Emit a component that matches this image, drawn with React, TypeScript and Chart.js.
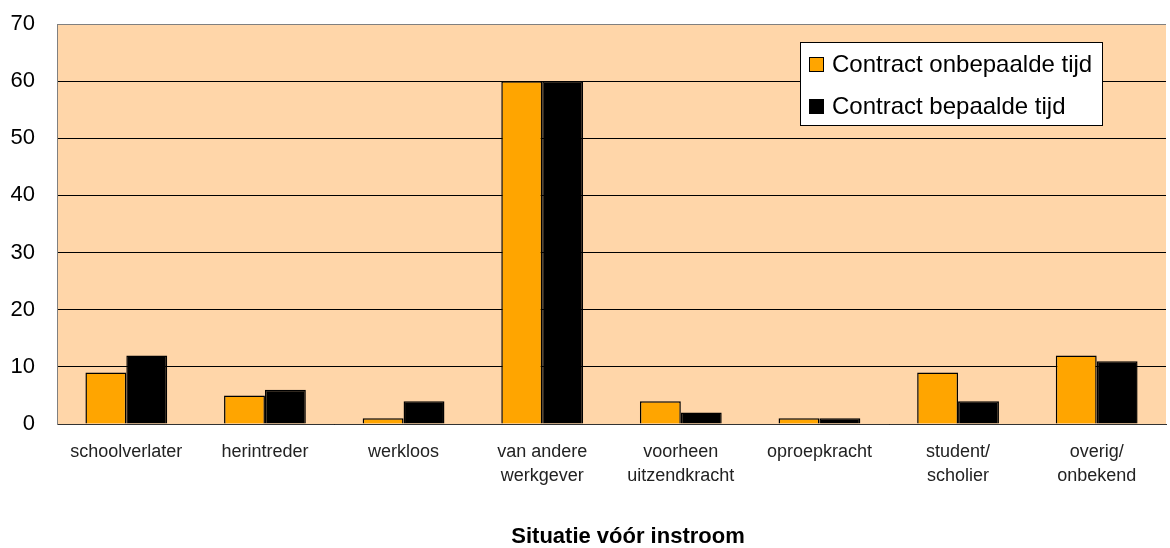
import React, { useEffect, useRef } from "react";
import { Chart, registerables } from "chart.js";

Chart.register(...registerables);

const categories: (string | string[])[] = [
  "schoolverlater",
  "herintreder",
  "werkloos",
  ["van andere", "werkgever"],
  ["voorheen", "uitzendkracht"],
  "oproepkracht",
  ["student/", "scholier"],
  ["overig/", "onbekend"],
];
const seriesNames = ["Contract onbepaalde tijd", "Contract bepaalde tijd"];
const onbepaalde = [9, 5, 1, 60, 4, 1, 9, 12];
const bepaalde = [12, 6, 4, 60, 2, 1, 4, 11];
const yTicks = [0, 10, 20, 30, 40, 50, 60, 70];
const axisTitle = "Situatie vóór instroom";

const FONT = "'Liberation Sans', Arial, sans-serif";

const bgPlugin = {
  id: "plotBg",
  beforeDraw(chart: any) {
    const { ctx, chartArea } = chart;
    ctx.save();
    ctx.fillStyle = "#FFD6A9";
    ctx.fillRect(chartArea.left, chartArea.top, chartArea.right - chartArea.left, chartArea.bottom - chartArea.top);
    ctx.restore();
  },
};

const titlePlugin = {
  id: "xTitle",
  afterDraw(chart: any) {
    const { ctx } = chart;
    ctx.save();
    ctx.font = `bold 22px ${FONT}`;
    ctx.fillStyle = "#000";
    ctx.textAlign = "center";
    ctx.textBaseline = "middle";
    ctx.fillText(axisTitle, 628, 537);
    ctx.restore();
  },
};

const legendPlugin = {
  id: "boxLegend",
  afterDraw(chart: any) {
    const { ctx } = chart;
    const x = 800.5, y = 42.5, w = 302, h = 83;
    ctx.save();
    ctx.fillStyle = "#ffffff";
    ctx.fillRect(x, y, w, h);
    ctx.strokeStyle = "#000000";
    ctx.lineWidth = 1;
    ctx.strokeRect(x, y, w, h);
    ctx.font = `24px ${FONT}`;
    ctx.textBaseline = "middle";
    chart.data.datasets.forEach((ds: any, i: number) => {
      const cy = 64 + i * 42;
      ctx.fillStyle = ds.backgroundColor;
      ctx.fillRect(809, cy - 7, 15, 15);
      ctx.strokeStyle = "#000";
      ctx.lineWidth = 1;
      ctx.strokeRect(809.5, cy - 6.5, 14, 14);
      ctx.fillStyle = "#000";
      ctx.fillText(ds.label, 832, cy + 1);
    });
    ctx.restore();
  },
};

export default function App() {
  const ref = useRef<HTMLCanvasElement>(null);
  useEffect(() => {
    const chart = new Chart(ref.current!, {
      type: "bar",
      data: {
        labels: categories as any,
        datasets: [
          { label: seriesNames[0], data: onbepaalde, backgroundColor: "#FFA500", borderColor: "#000", borderWidth: 1.5 },
          { label: seriesNames[1], data: bepaalde, backgroundColor: "#000000", borderColor: "#000", borderWidth: 1.5 },
        ],
      },
      options: {
        responsive: false,
        animation: false,
        layout: { padding: { left: 0, right: 4, top: 24, bottom: 0 } },
        plugins: { legend: { display: false }, tooltip: { enabled: false } },
        datasets: { bar: { categoryPercentage: 0.59, barPercentage: 1 } },
        scales: {
          x: {
            grid: { display: false, drawTicks: false },
            border: { color: "#333", width: 1 },
            ticks: { font: { family: FONT, size: 18, lineHeight: 1.33 }, color: "#222", padding: 16, maxRotation: 0, autoSkip: false },
            afterFit(scale: any) { scale.height = 124; scale.paddingLeft = 0; scale.paddingRight = 0; },
          },
          y: {
            min: 0,
            max: 70,
            afterBuildTicks(scale: any) { scale.ticks = yTicks.map((v) => ({ value: v })); },
            grid: { color: (c: any) => (c.tick && c.tick.value === 70 ? "#808080" : "#000"), lineWidth: 1, drawTicks: false },
            border: { color: "#808080", width: 1 },
            ticks: { font: { family: FONT, size: 22 }, color: "#000", padding: 22 },
            afterFit(scale: any) { scale.width = 57; scale.paddingTop = 0; scale.paddingBottom = 0; },
          },
        },
      },
      plugins: [bgPlugin, legendPlugin, titlePlugin],
    });
    return () => chart.destroy();
  }, []);
  return (
    <canvas ref={ref} width={1170} height={548} style={{ position: "absolute", left: 0, top: 0 }} />
  );
}
